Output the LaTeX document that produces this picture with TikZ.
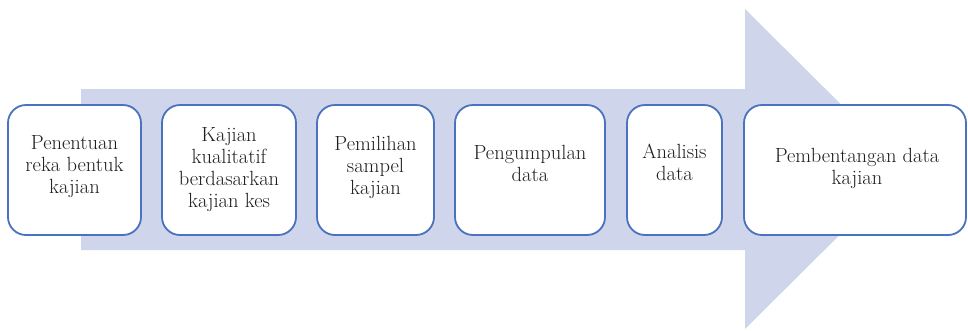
\documentclass[tikz,border=0pt]{standalone}
\definecolor{arrowfill}{HTML}{CFD5EA}
\definecolor{boxline}{HTML}{4A72BE}
\definecolor{txt}{HTML}{1E1E1E}
\begin{document}
\begin{tikzpicture}[x=1pt,y=-1pt,
  box/.style={draw=boxline, line width=1.8pt, fill=white, rounded corners=18pt, minimum height=130pt, inner sep=0pt},
  lbl/.style={align=center, text=txt, font=\fontsize{20.5}{22}\selectfont, inner sep=0pt}]
\useasboundingbox (0,0) rectangle (968,330);
% big arrow
\fill[arrowfill] (81,89) -- (745,89) -- (745,9) -- (906,169) -- (745,329) -- (745,250) -- (81,250) -- cycle;
% boxes
\node[box, minimum width=133pt] (b1) at (74.5,170) {};
\node[box, minimum width=134pt] (b2) at (229,170) {};
\node[box, minimum width=117pt] (b3) at (375.5,170) {};
\node[box, minimum width=150pt] (b4) at (530,170) {};
\node[box, minimum width=95pt]  (b5) at (674.5,170) {};
\node[box, minimum width=222pt] (b6) at (855,170) {};
% texts
\node[lbl] (t1) at (74.5,167) {Penentuan\\reka bentuk\\kajian};
\node[lbl] (t2) at (229,170) {Kajian\\kualitatif\\berdasarkan\\kajian kes};
\node[lbl] (t3) at (375.5,167) {Pemilihan\\sampel\\kajian};
\node[lbl] (t4) at (530,163) {Pengumpulan\\data};
\node[lbl] (t5) at (674.5,162) {Analisis\\data};
\node[lbl] (t6) at (857,168) {Pembentangan data\\kajian};
\end{tikzpicture}
\end{document}
